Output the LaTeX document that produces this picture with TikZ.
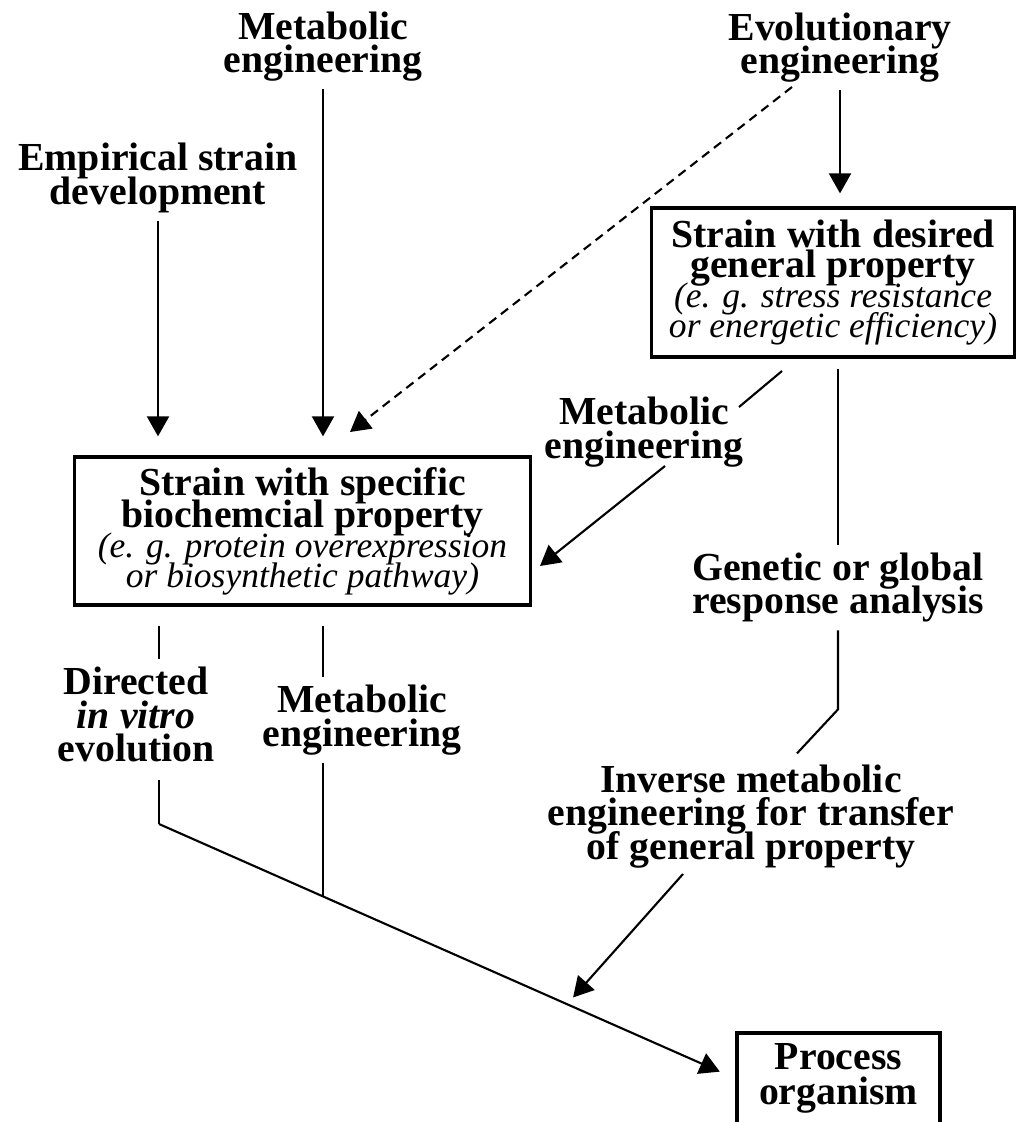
\documentclass[tikz,border=0pt]{standalone}
\usepackage{fontspec}
\setmainfont{Liberation Serif}
\usepackage{tikz}
\usetikzlibrary{arrows.meta}
\lineskiplimit=-100pt
\newcommand{\egline}[1]{{\fontsize{10.1}{8}\selectfont\mdseries\itshape #1}}

\begin{document}
\begin{tikzpicture}[x=0.01cm, y=-0.01cm, line width=0.6pt,
  lbl/.style={align=center, inner sep=2pt, font=\fontsize{11.3}{9.5}\selectfont\bfseries},
  box/.style={draw, line width=0.9pt, align=center, inner sep=0pt, font=\fontsize{11.3}{8.8}\selectfont\bfseries},
  arr/.style={-{Triangle[length=0.2cm,width=0.22cm]}}]
\useasboundingbox (0,0) rectangle (1015,1122);

\node[lbl] (metTop) at (323,46.5) {Metabolic\\engineering};
\node[lbl] (evoTop) at (840,47.5) {Evolutionary\\engineering};
\node[lbl] (empirical) at (158,178) {Empirical strain\\development};
\node[box, minimum width=3.62cm, minimum height=1.49cm] (desired) at (833,282.5)
  {Strain with desired\\[-0.3pt]general property\\[-0.3pt]\egline{(e. g. stress resistance}\\[-0.3pt]\egline{or energetic efficiency)}};
\node[lbl] (metMid) at (644,432) {Metabolic\\engineering};
\node[box, minimum width=4.55cm, minimum height=1.48cm] (specific) at (302.5,531)
  {Strain with specific\\[0.3pt]biochemcial property\\[-0.3pt]\egline{(e. g. protein overexpression}\\[-0.3pt]\egline{or biosynthetic pathway)}};
\node[lbl] (genetic) at (838,587.5) {Genetic or global\\response analysis};
\node[lbl] (directed) at (136,714.5) {Directed\\\textit{in vitro}\\evolution};
\node[lbl] (metLow) at (362,720) {Metabolic\\engineering};
\node[lbl] (inverse) at (751,816.5) {Inverse metabolic\\engineering for transfer\\of general property};
\node[box, minimum width=2.03cm, minimum height=0.91cm] (process) at (838.5,1078.5) {Process\\[1.1pt]organism};

\coordinate (dashA) at (792,87);
\coordinate (dashB) at (350,432);
\coordinate (linkA) at (782,371);
\coordinate (linkB) at (739,407);
\coordinate (metA) at (665,466);
\coordinate (metB) at (540,566);
\coordinate (invA) at (683,874);
\coordinate (jL) at (159,824);
\path (jL) -- (process.west) coordinate[pos=0.284] (jM) coordinate[pos=0.708] (jR);

\draw[arr, shorten >=0.19cm] (empirical.south) -- (empirical.south |- specific.north);
\draw[arr, shorten >=0.19cm] (metTop.south) -- (metTop.south |- specific.north);
\draw[arr, shorten >=0.13cm] (evoTop.south) -- (evoTop.south |- desired.north);
\draw[arr, dash pattern=on 0.09cm off 0.06cm] (dashA) -- (dashB);

\draw (linkA) -- (linkB);
\draw[arr] (metA) -- (metB);
\draw[shorten <=0.1cm] (desired.south -| genetic.north) -- (genetic.north);
\draw (genetic.south) -- ++(0,79) -- ++(-41,44);
\draw[arr, shorten >=0.09cm] (invA) -- (jR);

\draw[shorten <=0.19cm] (specific.south -| jL) -- (directed.north -| jL);
\draw[shorten <=0.1cm] (directed.south -| jL) -- (jL);
\draw[shorten <=0.19cm] (specific.south -| jM) -- (metLow.north -| jM);
\draw (metLow.south -| jM) -- (jM);
\draw[arr, shorten >=0.17cm] (jL) -- (process.west);
\end{tikzpicture}
\end{document}
